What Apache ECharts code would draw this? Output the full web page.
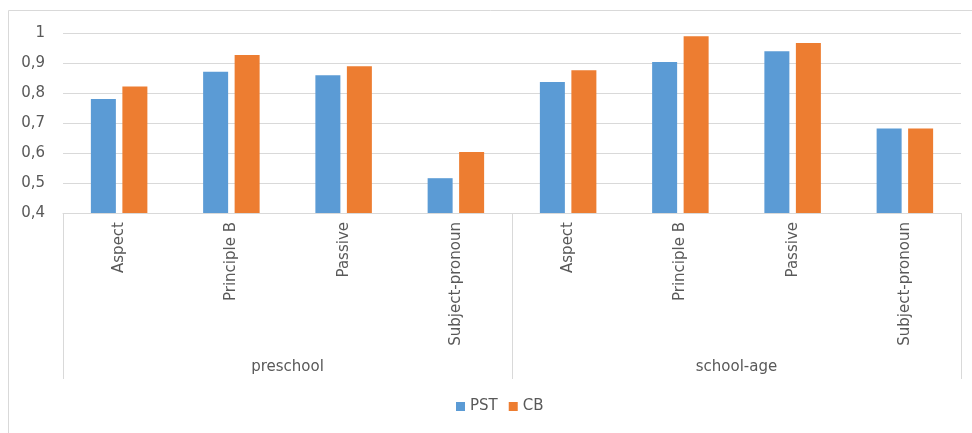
<!DOCTYPE html>
<html>
<head>
<meta charset="utf-8">
<script src="https://cdn.jsdelivr.net/npm/echarts@6/dist/echarts.min.js"></script>
<style>
  html, body { margin: 0; padding: 0; background: #fff; }
  #chart { width: 972px; height: 433px; }
</style>
</head>
<body>
<div id="chart"></div>
<script>
// Sub-categories (inner axis level) and their groups (outer axis level)
const categories = ['Aspect', 'Principle B', 'Passive', 'Subject-pronoun',
                    'Aspect', 'Principle B', 'Passive', 'Subject-pronoun'];
const groups = ['preschool', 'school-age'];

// Proportions per condition
const pstValues = [0.78, 0.871, 0.859, 0.516, 0.837, 0.903, 0.939, 0.682];
const cbValues  = [0.822, 0.927, 0.889, 0.603, 0.876, 0.989, 0.967, 0.682];

const seriesNames = ['PST', 'CB'];
const yTicks = { min: 0.4, max: 1, step: 0.1 };

const textColor = '#595959';
const lineColor = '#d9d9d9';
const fontFamily = '"DejaVu Sans", "Liberation Sans", sans-serif';

const chart = echarts.init(document.getElementById('chart'));

chart.setOption({
  animation: false,
  textStyle: { fontFamily: fontFamily },
  graphic: [{
    type: 'rect',
    shape: { x: 8.5, y: 10.5, width: 1200, height: 1200 },
    style: { fill: 'none', stroke: lineColor, lineWidth: 1 },
    silent: true
  }],
  grid: { left: 63, right: 11, top: 33, bottom: 220, containLabel: false },
  legend: {
    data: seriesNames,
    left: 456,
    top: 399,
    padding: 0,
    icon: 'rect',
    itemWidth: 9,
    itemHeight: 9,
    itemGap: 11,
    textStyle: { color: textColor, fontSize: 15, fontFamily: fontFamily }
  },
  xAxis: [
    {
      type: 'category',
      data: categories,
      axisLine: { show: true, lineStyle: { color: lineColor } },
      axisTick: { show: false },
      axisLabel: {
        rotate: 90,
        interval: 0,
        margin: 9,
        color: textColor,
        fontSize: 15,
        fontFamily: fontFamily
      }
    },
    {
      type: 'category',
      data: groups,
      position: 'bottom',
      axisLine: { show: false },
      axisTick: {
        show: true,
        length: 166,
        alignWithLabel: false,
        interval: 0,
        lineStyle: { color: lineColor }
      },
      axisLabel: {
        interval: 0,
        margin: 147,
        color: textColor,
        fontSize: 15,
        fontFamily: fontFamily
      }
    }
  ],
  yAxis: {
    type: 'value',
    min: yTicks.min,
    max: yTicks.max,
    interval: yTicks.step,
    axisLine: { show: false },
    axisTick: { show: false },
    splitLine: { lineStyle: { color: lineColor } },
    axisLabel: {
      margin: 18,
      color: textColor,
      fontSize: 15,
      fontFamily: fontFamily,
      formatter: v => String(+v.toFixed(1)).replace('.', ',')
    }
  },
  series: [
    {
      name: seriesNames[0],
      type: 'bar',
      xAxisIndex: 0,
      data: pstValues,
      barWidth: 25,
      barGap: '26%',
      itemStyle: { color: '#5B9BD5' }
    },
    {
      name: seriesNames[1],
      type: 'bar',
      xAxisIndex: 0,
      data: cbValues,
      barWidth: 25,
      barGap: '26%',
      itemStyle: { color: '#ED7D31' }
    }
  ]
});
</script>
</body>
</html>
